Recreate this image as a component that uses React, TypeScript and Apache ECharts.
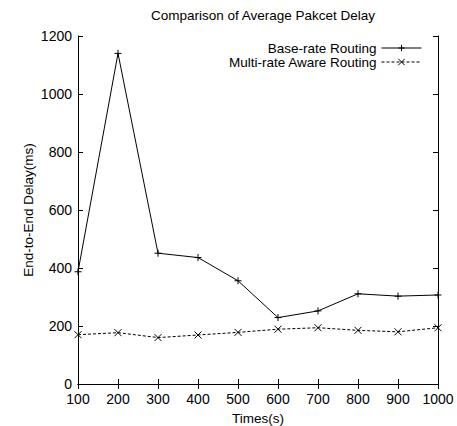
import React, { useEffect, useRef } from "react";
import * as echarts from "echarts";

const times = [100, 200, 300, 400, 500, 600, 700, 800, 900, 1000];
const baseRate = [387, 1140, 451, 436, 356, 229, 252, 311, 303, 307];
const multiRate = [170, 177, 160, 169, 178, 189, 194, 185, 180, 194];

const FONT = "Liberation Sans, Arial, Helvetica, sans-serif";
const PLUS = "path://M5,0 L5,10 M0,5 L10,5";
const CROSS = "path://M0,0 L10,10 M10,0 L0,10";

export default function App() {
  const ref = useRef<HTMLDivElement>(null);
  useEffect(() => {
    if (!ref.current) return;
    const chart = echarts.init(ref.current, null, { renderer: "svg" });
    const axisLine = { show: true, lineStyle: { color: "#000", width: 1 } };
    const tick = { show: true, inside: true, length: 5, lineStyle: { color: "#000", width: 1 } };
    const textStyle = { color: "#000", fontFamily: FONT, fontSize: 13.5 };
    const tickLabel = { color: "#000", fontFamily: FONT, fontSize: 14, margin: 6, formatter: (v: number) => String(v) };
    chart.setOption({
      animation: false,
      backgroundColor: "#fff",
      title: {
        text: "Comparison of Average Pakcet Delay",
        left: 258,
        textAlign: "center",
        top: 3,
        textStyle: { ...textStyle, fontWeight: "normal" },
      },
      legend: {
        orient: "vertical",
        right: 35,
        top: 41,
        padding: 0,
        align: "right",
        itemWidth: 40,
        itemHeight: 8,
        itemGap: 0,
        textStyle: { ...textStyle, lineHeight: 14 },
        lineStyle: { width: 1 },
        itemStyle: { borderWidth: 1 },
        data: ["Base-rate Routing", "Multi-rate Aware Routing"],
      },
      grid: { left: 78, right: 19, top: 36, bottom: 42, outerBoundsMode: "none", containLabel: false },
      xAxis: [
        {
          type: "value",
          min: 100,
          max: 1000,
          interval: 100,
          name: "Times(s)",
          nameLocation: "middle",
          nameGap: 27,
          nameMoveOverlap: false,
          nameTextStyle: textStyle,
          axisLine,
          axisTick: tick,
          axisLabel: { ...tickLabel, margin: 8 },
          splitLine: { show: false },
        },
        {
          type: "value",
          position: "top",
          min: 100,
          max: 1000,
          interval: 100,
          axisLine,
          axisTick: tick,
          axisLabel: { show: false },
          splitLine: { show: false },
        },
      ],
      yAxis: [
        {
          type: "value",
          min: 0,
          max: 1200,
          interval: 200,
          name: "End-to-End Delay(ms)",
          nameLocation: "middle",
          nameGap: 43,
          nameMoveOverlap: false,
          nameTextStyle: textStyle,
          axisLine,
          axisTick: tick,
          axisLabel: tickLabel,
          splitLine: { show: false },
        },
        {
          type: "value",
          position: "right",
          min: 0,
          max: 1200,
          interval: 200,
          axisLine,
          axisTick: tick,
          axisLabel: { show: false },
          splitLine: { show: false },
        },
      ],
      series: [
        {
          name: "Base-rate Routing",
          type: "line",
          data: times.map((t, i) => [t, baseRate[i]]),
          symbol: PLUS,
          symbolSize: 7,
          showAllSymbol: true,
          lineStyle: { color: "#000", width: 1 },
          itemStyle: { color: "#000", borderColor: "#000", borderWidth: 1 },
          emphasis: { disabled: true },
        },
        {
          name: "Multi-rate Aware Routing",
          type: "line",
          data: times.map((t, i) => [t, multiRate[i]]),
          symbol: CROSS,
          symbolSize: 7,
          showAllSymbol: true,
          lineStyle: { color: "#000", width: 1, type: [3, 2] },
          itemStyle: { color: "#000", borderColor: "#000", borderWidth: 1 },
          emphasis: { disabled: true },
        },
      ],
    });
    return () => chart.dispose();
  }, []);
  return (
    <div
      ref={ref}
      style={{ position: "fixed", left: 0, top: 0, width: 457, height: 426 }}
    />
  );
}
